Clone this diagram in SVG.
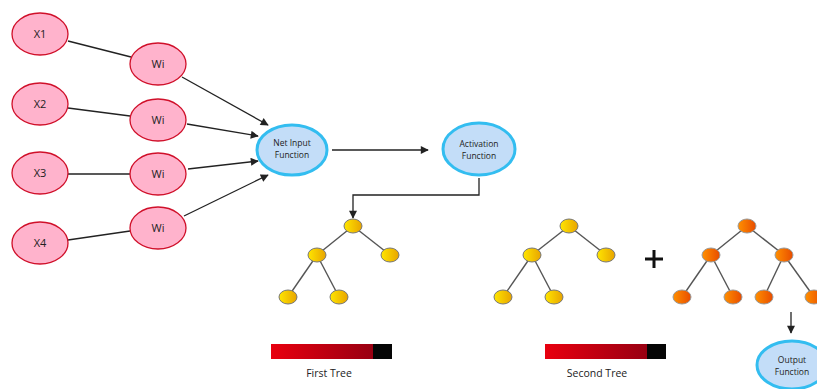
<svg xmlns="http://www.w3.org/2000/svg" width="817" height="389" viewBox="0 0 817 389">
  <defs>
    <linearGradient id="gYellow" x1="0" y1="0" x2="1" y2="0">
      <stop offset="0" stop-color="#ffe600"/>
      <stop offset="1" stop-color="#e8a400"/>
    </linearGradient>
    <linearGradient id="gOrange" x1="0" y1="0" x2="1" y2="0">
      <stop offset="0" stop-color="#ff9000"/>
      <stop offset="1" stop-color="#e84c00"/>
    </linearGradient>
    <linearGradient id="gBar" x1="0" y1="0" x2="1" y2="0">
      <stop offset="0" stop-color="#e8000f"/>
      <stop offset="1" stop-color="#980012"/>
    </linearGradient>
    <marker id="arrow" viewBox="0 0 10 10" refX="9" refY="5" markerWidth="9" markerHeight="8" markerUnits="userSpaceOnUse" orient="auto">
      <path d="M0,0 L10,5 L0,10 z" fill="#222"/>
    </marker>
  </defs>
  <style>
    .pink { fill: #ffb3cc; stroke: #d0102a; stroke-width: 1.3; }
    .blue { fill: #c3ddf8; stroke: #33bdf0; stroke-width: 3; }
    .lbl { font-family: "Open Sans", "Liberation Sans", sans-serif; font-size: 11px; fill: #222; text-anchor: middle; }
    .sm { font-family: "Open Sans", "Liberation Sans", sans-serif; font-size: 8.5px; fill: #222; text-anchor: middle; }
    .cap { font-family: "Open Sans", "Liberation Sans", sans-serif; font-size: 10.5px; fill: #222; text-anchor: middle; }
    .link { stroke: #222; stroke-width: 1.3; fill: none; }
    .arr { stroke: #222; stroke-width: 1.3; fill: none; marker-end: url(#arrow); }
    .edge { stroke: #555; stroke-width: 1.4; }
    .ny { fill: url(#gYellow); stroke: #777; stroke-width: 1; }
    .no { fill: url(#gOrange); stroke: #999; stroke-width: 1; }
  </style>

  <rect width="817" height="389" fill="#fff"/>

  <!-- connectors -->
  <g id="connectors">
    <line class="link" x1="68" y1="41" x2="131" y2="57"/>
    <line class="link" x1="68" y1="108" x2="130" y2="116"/>
    <line class="link" x1="68" y1="174" x2="130" y2="174"/>
    <line class="link" x1="68" y1="240" x2="130" y2="231"/>
    <line class="arr" x1="182" y1="77" x2="268" y2="125"/>
    <line class="arr" x1="187" y1="124" x2="258" y2="136"/>
    <line class="arr" x1="188" y1="169" x2="258" y2="161"/>
    <line class="arr" x1="184" y1="216" x2="268" y2="175"/>
    <line class="arr" x1="332" y1="150" x2="428" y2="150"/>
    <polyline class="arr" points="479,178 479,195 353,195 353,218"/>
    <line class="arr" x1="791" y1="312" x2="791" y2="333"/>
  </g>

  <!-- input nodes -->
  <g id="x1"><ellipse class="pink" cx="40" cy="34" rx="28" ry="21"/><text class="lbl" x="40" y="38">X1</text></g>
  <g id="x2"><ellipse class="pink" cx="40" cy="104" rx="28" ry="21"/><text class="lbl" x="40" y="108">X2</text></g>
  <g id="x3"><ellipse class="pink" cx="40" cy="173" rx="28" ry="21"/><text class="lbl" x="40" y="177">X3</text></g>
  <g id="x4"><ellipse class="pink" cx="40" cy="243" rx="28" ry="21"/><text class="lbl" x="40" y="247">X4</text></g>

  <!-- weight nodes -->
  <g id="w1"><ellipse class="pink" cx="158" cy="64" rx="28" ry="21"/><text class="lbl" x="158" y="68">Wi</text></g>
  <g id="w2"><ellipse class="pink" cx="158" cy="120" rx="28" ry="21"/><text class="lbl" x="158" y="124">Wi</text></g>
  <g id="w3"><ellipse class="pink" cx="158" cy="174" rx="28" ry="21"/><text class="lbl" x="158" y="178">Wi</text></g>
  <g id="w4"><ellipse class="pink" cx="158" cy="228" rx="28" ry="21"/><text class="lbl" x="158" y="232">Wi</text></g>

  <!-- function nodes -->
  <g id="net-input">
    <ellipse class="blue" cx="292" cy="150" rx="35" ry="25"/>
    <text class="sm" x="292" y="146">Net Input</text>
    <text class="sm" x="292" y="158">Function</text>
  </g>
  <g id="activation">
    <ellipse class="blue" cx="479" cy="149" rx="36" ry="26"/>
    <text class="sm" x="479" y="147">Activation</text>
    <text class="sm" x="479" y="159">Function</text>
  </g>
  <g id="output">
    <ellipse class="blue" cx="792" cy="365" rx="35" ry="24"/>
    <text class="sm" x="792" y="363">Output</text>
    <text class="sm" x="792" y="375">Function</text>
  </g>

  <!-- first tree -->
  <g id="tree1">
    <line class="edge" x1="353" y1="226" x2="317" y2="255"/>
    <line class="edge" x1="353" y1="226" x2="390" y2="255"/>
    <line class="edge" x1="317" y1="255" x2="288" y2="297"/>
    <line class="edge" x1="317" y1="255" x2="339" y2="297"/>
    <ellipse class="ny" cx="353" cy="226" rx="9" ry="7"/>
    <ellipse class="ny" cx="317" cy="255" rx="9" ry="7"/>
    <ellipse class="ny" cx="390" cy="255" rx="9" ry="7"/>
    <ellipse class="ny" cx="288" cy="297" rx="9" ry="7"/>
    <ellipse class="ny" cx="339" cy="297" rx="9" ry="7"/>
  </g>

  <!-- second tree -->
  <g id="tree2">
    <line class="edge" x1="569" y1="226" x2="532" y2="255"/>
    <line class="edge" x1="569" y1="226" x2="606" y2="255"/>
    <line class="edge" x1="532" y1="255" x2="503" y2="297"/>
    <line class="edge" x1="532" y1="255" x2="554" y2="297"/>
    <ellipse class="ny" cx="569" cy="226" rx="9" ry="7"/>
    <ellipse class="ny" cx="532" cy="255" rx="9" ry="7"/>
    <ellipse class="ny" cx="606" cy="255" rx="9" ry="7"/>
    <ellipse class="ny" cx="503" cy="297" rx="9" ry="7"/>
    <ellipse class="ny" cx="554" cy="297" rx="9" ry="7"/>
  </g>

  <!-- plus sign -->
  <g id="plus" stroke="#111" stroke-width="3">
    <line x1="645" y1="259" x2="663" y2="259"/>
    <line x1="654" y1="250" x2="654" y2="268"/>
  </g>

  <!-- combined tree -->
  <g id="tree3">
    <line class="edge" x1="747" y1="226" x2="711" y2="255"/>
    <line class="edge" x1="747" y1="226" x2="784" y2="255"/>
    <line class="edge" x1="711" y1="255" x2="682" y2="297"/>
    <line class="edge" x1="711" y1="255" x2="733" y2="297"/>
    <line class="edge" x1="784" y1="255" x2="764" y2="297"/>
    <line class="edge" x1="784" y1="255" x2="814" y2="297"/>
    <ellipse class="no" cx="747" cy="226" rx="9" ry="7"/>
    <ellipse class="no" cx="711" cy="255" rx="9" ry="7"/>
    <ellipse class="no" cx="784" cy="255" rx="9" ry="7"/>
    <ellipse class="no" cx="682" cy="297" rx="9" ry="7"/>
    <ellipse class="no" cx="733" cy="297" rx="9" ry="7"/>
    <ellipse class="no" cx="764" cy="297" rx="9" ry="7"/>
    <ellipse class="no" cx="814" cy="297" rx="9" ry="7"/>
  </g>

  <!-- score bars -->
  <g id="bar1">
    <rect x="271" y="344" width="102" height="15" fill="url(#gBar)"/>
    <rect x="373" y="344" width="19" height="15" fill="#050505"/>
    <text class="cap" x="329" y="377">First Tree</text>
  </g>
  <g id="bar2">
    <rect x="545" y="344" width="102" height="15" fill="url(#gBar)"/>
    <rect x="647" y="344" width="19" height="15" fill="#050505"/>
    <text class="cap" x="597" y="377">Second Tree</text>
  </g>
</svg>
